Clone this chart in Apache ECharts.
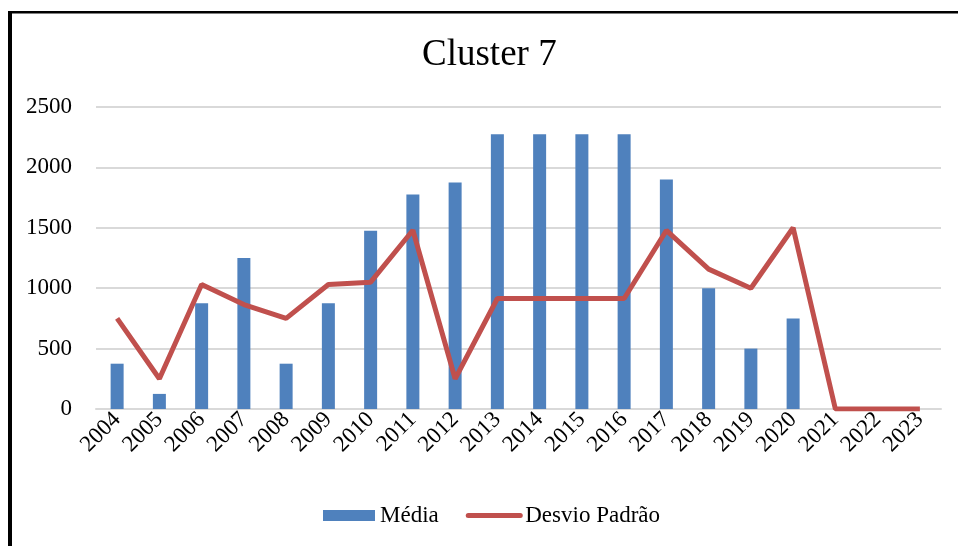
<!DOCTYPE html>
<html>
<head>
<meta charset="utf-8">
<script src="https://cdn.jsdelivr.net/npm/echarts@6/dist/echarts.min.js"></script>
<style>
html,body{margin:0;padding:0;background:#fff;}
#chart{width:958px;height:546px;}
</style>
</head>
<body>
<div id="chart"></div>
<script>
const years = ['2004','2005','2006','2007','2008','2009','2010','2011','2012','2013','2014','2015','2016','2017','2018','2019','2020','2021','2022','2023'];
const media = [375,125,875,1250,375,875,1475,1775,1875,2275,2275,2275,2275,1900,1000,500,750,0,0,0];
const desvio = [750,250,1030,865,750,1030,1050,1480,250,915,915,915,915,1478,1158,1000,1500,0,0,0];
const yTicks = [0,500,1000,1500,2000,2500];

const font = '"Liberation Serif","Times New Roman",serif';
const chart = echarts.init(document.getElementById('chart'));
chart.setOption({
  animation:false,
  backgroundColor:'#fff',
  title:{
    text:'Cluster 7',
    left:417, top:32,
    textStyle:{fontFamily:font,fontSize:37,fontWeight:'normal',color:'#000'}
  },
  legend:{
    bottom:14,
    left:318,
    itemGap:27,
    itemWidth:52,
    itemHeight:11,
    textStyle:{fontFamily:font,fontSize:23,color:'#000'},
    data:[
      {name:'Média',icon:'rect'},
      {name:'Desvio Padrão',itemStyle:{opacity:0},lineStyle:{width:5,color:'#C0504D',cap:'round'}}
    ]
  },
  grid:{left:96,right:17,top:107,bottom:137,containLabel:false},
  xAxis:{
    type:'category',
    data:years,
    axisLine:{lineStyle:{color:'#d9d9d9',width:2}},
    axisTick:{show:false},
    axisLabel:{rotate:45,fontFamily:font,fontSize:23,color:'#000',margin:7,interval:0}
  },
  yAxis:{
    type:'value',
    min:yTicks[0],max:yTicks[yTicks.length-1],interval:500,
    axisLine:{show:false},
    axisTick:{show:false},
    splitLine:{lineStyle:{color:'#d9d9d9',width:2}},
    axisLabel:{fontFamily:font,fontSize:23,color:'#000',margin:24,formatter:function(v){return String(v);}}
  },
  series:[
    {name:'Média',type:'bar',data:media,barWidth:13,itemStyle:{color:'#4F81BD'}},
    {name:'Desvio Padrão',type:'line',data:desvio,symbol:'none',lineStyle:{color:'#C0504D',width:5},itemStyle:{color:'#C0504D'}}
  ],
  graphic:[
    {type:'rect',shape:{x:8,y:11,width:4,height:535},style:{fill:'#000'},silent:true},
    {type:'rect',shape:{x:8,y:11,width:950,height:2.5},style:{fill:'#000'},silent:true}
  ]
});
</script>
</body>
</html>
